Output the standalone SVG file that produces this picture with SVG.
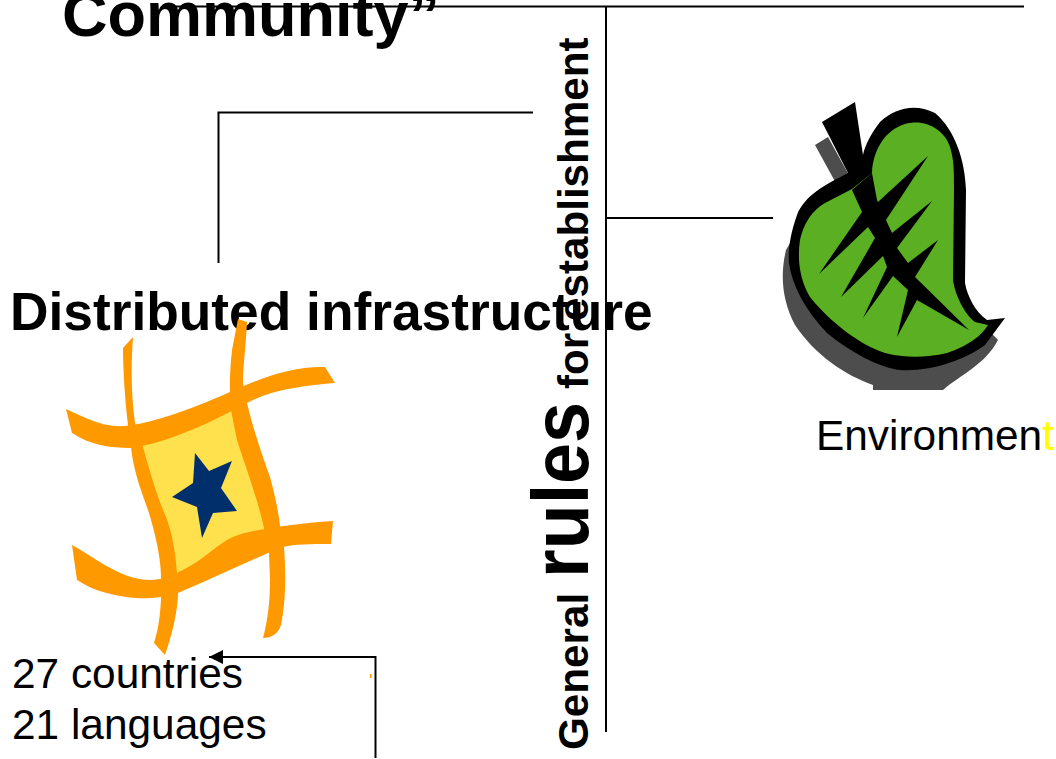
<svg xmlns="http://www.w3.org/2000/svg" width="1056" height="759" viewBox="0 0 1056 759">
<style>
text{font-family:"Liberation Sans",Arial,sans-serif;fill:#000}
.b{font-weight:bold}
.l{fill:none;stroke:#000;stroke-width:2}
.o{fill:#ff9900}
</style>
<defs><marker id="a" markerWidth="16" markerHeight="14" refX="14" refY="7" orient="auto" markerUnits="userSpaceOnUse"><path d="M0 0L14 7L0 14Z" fill="#000"/></marker></defs>
<rect width="1056" height="759" fill="#fff"/>
<g id="title"><text class="b" x="62" y="36" font-size="63">Community”</text></g>
<g id="vertical-label"><text class="b" transform="translate(588 750) rotate(-90)" font-size="42.2">General <tspan x="172" font-size="79" textLength="176" lengthAdjust="spacingAndGlyphs">rules</tspan> <tspan x="361">for establishment</tspan></text></g>
<g id="distributed"><text class="b" x="10" y="330" font-size="53.3">Distributed infrastructure</text>
<g id="grid-icon">
<polygon points="140,445 232,405 268,530 172,578" fill="#ffe14d"/>
<path class="o" d="M66 409C85 418 100 425 115 426C140 428 190 410 230 392C265 376 295 366 325 367L335 383C300 386 270 390 247 403C215 420 170 443 130 448C110 448 90 445 72 433Z"/>
<path class="o" d="M72 545C90 555 105 567 125 575C145 582 160 582 177 573C205 560 215 545 233 537C250 530 290 524 333 521L331 544C310 544 295 544 283 547C250 560 210 580 178 593C150 602 125 598 103 592C95 590 85 585 77 580Z"/>
<path class="o" d="M133 337L123 348C123 370 125 400 128 425L131 447C134 475 143 495 148 510C156 535 161 560 161 577C162 600 160 625 154 643L165 655C172 635 178 610 178 593L177 573C175 545 170 525 163 510C155 490 148 465 143 447L135 423C131 395 131 365 133 337Z"/>
<path class="o" d="M238 319L247 322C246 345 243 365 243 383L247 403C252 425 262 455 270 477C275 495 278 510 280 525L284 547C286 575 286 600 281 625C278 635 270 638 263 638C268 620 270 600 270 580L269 553L264 528C258 500 245 465 237 440L231 410C229 385 230 370 232 350Z"/>
<polygon fill="#002f6c" points="195,453 209,471 232,461 221,488 237,511 213,513 202,538 197,507 172,497 193,483"/>
</g></g>
<g id="environment">
<g id="leaf-icon">
<path fill="#4d4d4d" d="M815 145L828 137L850 177L815 200L786 250C780 275 782 300 795 325C815 355 845 375 873 385V390H943C960 375 985 365 998 340L960 300H900Z"/>
<path fill="#000" d="M855 102L822 122L848 173C825 185 805 195 797 215C790 235 788 250 789 263C792 285 805 310 827 333C850 352 880 368 900 370C930 372 965 360 985 345L1005 318L987 320C975 312 967 295 965 283L966 190C965 160 955 130 935 113C915 103 895 108 880 122C872 132 865 145 863 155Z"/>
<path fill="#5aaf23" d="M872 173C873 150 885 130 905 124C925 118 945 130 950 147C954 160 954 170 954 190L953 280C955 295 965 315 975 322L988 325C982 335 970 345 947 353C925 358 905 358 885 353C860 345 830 322 810 297C800 280 797 260 800 240C803 225 812 210 825 203L852 189Z"/>
<path fill="#000" d="M872 173L877 200L878 202L928 156L886 220L892 233L932 201L897 248L908 263L938 240L915 277L969 330L917 300L897 337L908 290L893 276L863 318L887 267L883 256L841 297L875 238L868 227L819 274L862 212L852 190Z"/>
</g>
<text x="816" y="450" font-size="42.4">Environmen<tspan fill="#ffff00">t</tspan></text>
</g>
<g id="counts"><text x="12" y="688" font-size="42.4">27 countries</text><text x="12" y="739" font-size="42.4">21 languages</text>
<rect x="370" y="674" width="1.500" height="4" fill="#ff9900"/></g>
<g id="connectors">
<path class="l" d="M170 6.500H1024"/>
<path class="l" d="M606 7V732"/>
<path class="l" d="M606 218H773"/>
<path class="l" d="M218.500 263V112.500H533"/>
<path class="l" d="M375.500 758V657H209" marker-end="url(#a)"/>
</g>
</svg>
